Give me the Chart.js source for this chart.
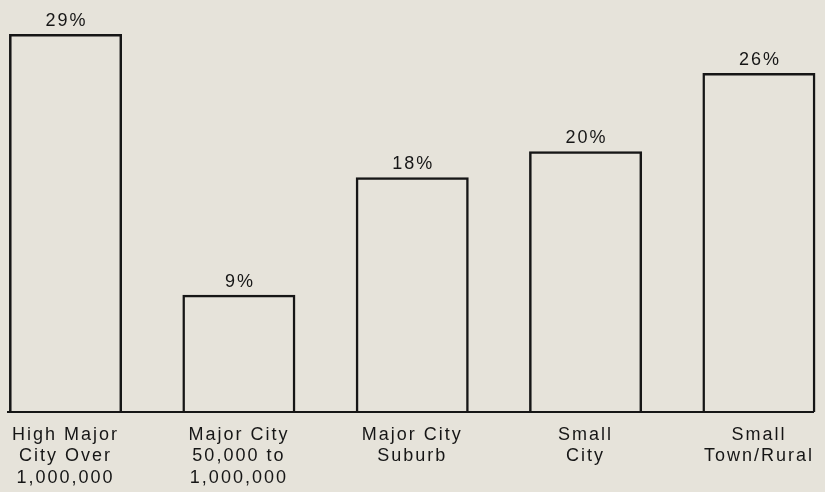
<!DOCTYPE html>
<html>
<head>
<meta charset="utf-8">
<script src="https://cdn.jsdelivr.net/npm/chart.js@4"></script>
<style>
  html, body { margin: 0; padding: 0; background: #e6e3da; }
  #wrap { width: 825px; height: 492px; }
</style>
</head>
<body>
<div id="wrap"><canvas id="chart" width="825" height="492"></canvas></div>
<script>
const categories = [
    ['High Major', 'City Over', '1,000,000'],
    ['Major City', '50,000 to', '1,000,000'],
    ['Major City', 'Suburb'],
    ['Small', 'City'],
    ['Small', 'Town/Rural']
];
const shares = [29, 9, 18, 20, 26];

const ink = '#161616';
const tracking = '2px';
const labelFont = '18px "Liberation Sans", Arial, sans-serif';

// loose letter spacing for all canvas text
const trackingPlugin = {
    id: 'tracking',
    beforeDraw(chart) { chart.ctx.letterSpacing = tracking; }
};

// percentage above each bar
const valueLabels = {
    id: 'valueLabels',
    afterDatasetsDraw(chart) {
        const ctx = chart.ctx;
        const meta = chart.getDatasetMeta(0);
        ctx.save();
        ctx.letterSpacing = tracking;
        ctx.font = labelFont;
        ctx.fillStyle = ink;
        ctx.textAlign = 'center';
        ctx.textBaseline = 'alphabetic';
        meta.data.forEach((bar, i) => {
            ctx.fillText(shares[i] + '%', bar.x + 1, bar.y - 8);
        });
        ctx.restore();
    }
};

new Chart(document.getElementById('chart'), {
    type: 'bar',
    data: {
        datasets: [{
            data: shares.map((v, i) => ({ x: i, y: v })),
            backgroundColor: 'rgba(0,0,0,0)',
            borderColor: ink,
            borderWidth: 2.5,
            categoryPercentage: 1,
            barPercentage: 0.652,
            clip: false
        }]
    },
    options: {
        responsive: false,
        animation: false,
        layout: { padding: { left: 8, right: 12, top: 0, bottom: 0 } },
        plugins: { legend: { display: false }, tooltip: { enabled: false } },
        scales: {
            x: {
                type: 'linear',
                offset: false,
                min: -0.332,
                max: 4.312,
                afterBuildTicks: (s) => { s.ticks = categories.map((_, i) => ({ value: i })); },
                afterFit: (s) => { s.height = 80; },
                grid: { display: false, drawTicks: false },
                border: { display: true, color: ink, width: 2 },
                ticks: {
                    autoSkip: false,
                    maxRotation: 0,
                    padding: 12,
                    color: ink,
                    font: { family: '"Liberation Sans", Arial, sans-serif', size: 18, lineHeight: 1.2 },
                    callback: (v) => categories[v] || ''
                }
            },
            y: { display: false, min: 0, max: 31.6 }
        }
    },
    plugins: [trackingPlugin, valueLabels]
});
</script>
</body>
</html>
